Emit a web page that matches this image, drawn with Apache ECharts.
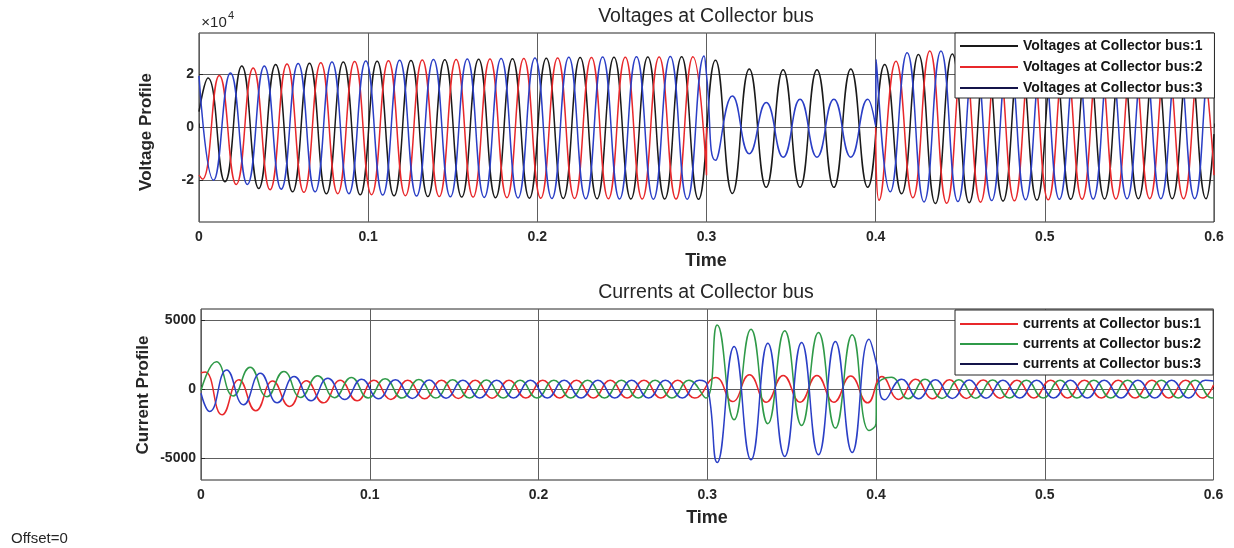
<!DOCTYPE html>
<html><head><meta charset="utf-8">
<script src="https://cdn.jsdelivr.net/npm/echarts@6/dist/echarts.min.js"></script>
<style>html,body{margin:0;padding:0;background:#fff}#c{width:1234px;height:548px}</style>
</head><body><div id="c"></div><script>
// ---------------- data ----------------
const HALF_CYCLE = 0.01;             // 50 Hz waveforms: one extremum every 10 ms
const X_TICKS = [0, 0.1, 0.2, 0.3, 0.4, 0.5, 0.6];
const V_TICKS = [-20000, 0, 20000];
const I_TICKS = [-5000, 0, 5000];

const V_NAMES = ['Voltages at Collector bus:1', 'Voltages at Collector bus:2', 'Voltages at Collector bus:3'];
const I_NAMES = ['currents at Collector bus:1', 'currents at Collector bus:2', 'currents at Collector bus:3'];

// Voltage phase 1 (black): extrema from t0, alternating peak/trough
const V1_START = [[0, 6000]];
const V1_T0 = 0.0053;
const V1_EXT = [18700, -20500, 23200, -23000, 23800, -24300, 24300, -25000, 24700, -25400,
  25000, -25800, 25300, -26100, 25600, -26300, 25800, -26500, 26000, -26700,
  26200, -26800, 26400, -26900, 26500, -27000, 26600, -27000, 26700, -27100,
  25400, -24900, 22100, -22600, 21800, -22600, 21800, -22600, 22100, -22600,
  23800, -25000, 27600, -28700, 27800, -28400, 27400, -27800, 27100, -27400,
  26900, -27100, 26800, -27000, 26800, -26900, 26700, -26900, 26700, -26900];
const V1_END = [[0.6, -2500]];

// Voltage phase 2 (red)
const V2_START = [[0, -18000]];
const V2_PRE_T0 = 0.002;
const V2_PRE = [-19500, 19600, -21500, 22500, -23500, 24000, -24500, 24500, -25000, 24900,
  -25400, 25200, -25800, 25500, -26100, 25700, -26300, 25900, -26500, 26100,
  -26700, 26300, -26800, 26400, -26900, 26500, -27000, 26600, -27000, 26700];
const V2_FAULT = [[0.3, -18000], [0.3, 0], [0.35, null], [0.4, 0]];
const V2_POST_T0 = 0.402;
const V2_POST = [-27500, 25000, -26500, 28900, -28600, 28500, -28200, 27900, -27700, 27400,
  -27300, 27100, -27100, 26900, -27000, 26800, -26900, 26800, -26900, 26700];
const V2_END = [[0.6, -18000]];

// Voltage phase 3 (blue)
const V3_START = [[0, 19500]];
const V3_PRE_T0 = 0.0086;
const V3_PRE = [-19900, 20600, -21500, 23200, -23300, 24200, -24300, 24700, -25000, 25100,
  -25500, 25400, -25900, 25700, -26200, 25900, -26400, 26100, -26600, 26300,
  -26800, 26500, -26900, 26600, -27000, 26700, -27100, 26800, -27100, 27000];
const V3_FAULT_IN = [[0.3, 20000]];
const V3_FAULT_T0 = 0.3053;
const V3_FAULT = [-12400, 11900, -9900, 9400, -11200, 10700, -11200, 10700, -11200, 10700];
const V3_FAULT_OUT = [[0.4, 500], [0.4003, 25700]];
const V3_POST_T0 = 0.4086;
const V3_POST = [-24300, 28200, -28100, 28900, -28000, 28300, -27600, 27800, -27300, 27400,
  -27100, 27100, -27000, 27000, -26900, 26900, -26900, 26800, -26900, 26800];
const V3_END = [[0.6, 25000]];

// Current phase 1 (red)
const I1_START = [[0, 1200]];
const I1_PRE_T0 = 0.0025;
const I1_PRE = [1250, -1870, 680, -1580, 600, -1260, 620, -1000, 650, -850,
  650, -750, 650, -700, 650, -680, 650, -660, 650, -650,
  650, -650, 650, -650, 650, -650, 650, -650, 650, -650];
const I1_FAULT_T0 = 0.305;
const I1_FAULT = [850, -900, 1050, -950, 1000, -950, 1000, -950, 950, -1000];
const I1_POST_T0 = 0.4035;
const I1_POST = [920, -750, 720, -700, 680, -680, 660, -660, 650, -650,
  650, -650, 650, -650, 650, -650, 650, -650, 650, -650];
const I1_END = [[0.6, 300]];

// Current phase 2 (green)
const I2_START = [[0, -100]];
const I2_PRE_T0 = 0.0091;
const I2_PRE = [2000, -500, 1600, -550, 1290, -600, 970, -620, 850, -640,
  760, -650, 700, -650, 680, -650, 660, -650, 650, -650,
  650, -650, 650, -650, 650, -650, 650, -650, 650, -650];
const I2_FAULT_T0 = 0.3059;
const I2_FAULT = [4680, -2230, 4370, -2520, 4250, -2650, 4130, -2840, 3960, -3010];
const I2_FAULT_OUT = [[0.4, -2500], [0.4003, 100]];
const I2_POST_T0 = 0.4091;
const I2_POST = [870, -700, 720, -680, 680, -660, 660, -650, 650, -650,
  650, -650, 650, -650, 650, -650, 650, -650, 650, -650];
const I2_END = [[0.6, -600]];

// Current phase 3 (blue)
const I3_START = [[0, -300]];
const I3_PRE_T0 = 0.0052;
const I3_PRE = [-1630, 1400, -1140, 1160, -1000, 920, -850, 800, -750, 720,
  -700, 680, -680, 660, -660, 650, -650, 650, -650, 650,
  -650, 650, -650, 650, -650, 650, -650, 650, -650, 650];
const I3_FAULT_IN = [[0.3, 300]];
const I3_FAULT_T0 = 0.3059;
const I3_FAULT = [-5340, 3100, -5150, 3350, -4900, 3400, -4780, 3470, -4610, 3640];
const I3_FAULT_OUT = [[0.4, 2000]];
const I3_POST_T0 = 0.4052;
const I3_POST = [-780, 720, -700, 680, -680, 660, -660, 650, -650, 650,
  -650, 650, -650, 650, -650, 650, -650, 650, -650, 650];
const I3_END = [[0.6, 600]];

// ---------------- build ----------------
function seq(t0, vals) {
  return vals.map((v, i) => [Math.round((t0 + i * HALF_CYCLE) * 1e5) / 1e5, v]);
}
const v1 = [...V1_START, ...seq(V1_T0, V1_EXT), ...V1_END];
const v2 = [...V2_START, ...seq(V2_PRE_T0, V2_PRE), ...V2_FAULT, ...seq(V2_POST_T0, V2_POST), ...V2_END];
const v3 = [...V3_START, ...seq(V3_PRE_T0, V3_PRE), ...V3_FAULT_IN, ...seq(V3_FAULT_T0, V3_FAULT), ...V3_FAULT_OUT, ...seq(V3_POST_T0, V3_POST), ...V3_END];
const i1 = [...I1_START, ...seq(I1_PRE_T0, I1_PRE), ...seq(I1_FAULT_T0, I1_FAULT), ...seq(I1_POST_T0, I1_POST), ...I1_END];
const i2 = [...I2_START, ...seq(I2_PRE_T0, I2_PRE), ...seq(I2_FAULT_T0, I2_FAULT), ...I2_FAULT_OUT, ...seq(I2_POST_T0, I2_POST), ...I2_END];
const i3 = [...I3_START, ...seq(I3_PRE_T0, I3_PRE), ...I3_FAULT_IN, ...seq(I3_FAULT_T0, I3_FAULT), ...I3_FAULT_OUT, ...seq(I3_POST_T0, I3_POST), ...I3_END];

const FONT = '"Liberation Sans", Arial, sans-serif';
const BLACK = '#1a1a1a', RED = '#e8282b', BLUE = '#2b3fc6', GREEN = '#2f9a48';
const LEG3 = '#14144a';

function xAxis(gi) {
  return {
    type: 'value', gridIndex: gi, min: 0, max: 0.6, interval: 0.1,
    axisLine: { show: false },
    axisTick: { show: true, inside: true, length: 4, lineStyle: { color: '#262626' } },
    splitLine: { show: true, lineStyle: { color: '#5e5e5e', width: 1 } },
    axisLabel: { margin: 8, color: '#262626', fontFamily: FONT, fontWeight: 'bold', fontSize: 14,
      formatter: v => String(+v.toFixed(2)) }
  };
}
function yAxis(gi, min, max, ticks, fmt) {
  return {
    type: 'value', gridIndex: gi, min, max,
    axisLine: { show: false },
    axisTick: { show: true, inside: true, length: 4, customValues: ticks, lineStyle: { color: '#262626' } },
    splitLine: { show: true, lineStyle: { color: '#5e5e5e', width: 1 } },
    axisLabel: { margin: 5, color: '#262626', fontFamily: FONT, fontWeight: 'bold', fontSize: 14,
      customValues: ticks, formatter: fmt }
  };
}
function line(name, data, color, gi) {
  return { name, type: 'line', xAxisIndex: gi, yAxisIndex: gi, data, showSymbol: false, symbol: 'none',
    smooth: 0.5, lineStyle: { width: 1.5, color }, itemStyle: { color }, emphasis: { disabled: true } };
}
function legend(names, colors, top, gap, pad) {
  return {
    orient: 'vertical', left: 955, top, itemWidth: 58, itemHeight: 2, icon: 'rect', itemGap: gap,
    padding: pad, backgroundColor: '#fff', borderColor: '#262626', borderWidth: 1, borderRadius: 0,
    selectedMode: false,
    textStyle: { color: '#161616', fontFamily: FONT, fontWeight: 'bold', fontSize: 14, lineHeight: 14 },
    data: names.map((n, k) => ({ name: n, itemStyle: { color: colors[k] } }))
  };
}
function txt(x, y, text, size, weight, extra) {
  return Object.assign({ type: 'text', x, y, silent: true,
    style: { text, font: `${weight} ${size}px ${FONT}`, fill: '#262626',
      align: 'center', verticalAlign: 'middle', textAlign: 'center', textVerticalAlign: 'middle' } }, extra || {});
}

const chart = echarts.init(document.getElementById('c'), null, { renderer: 'canvas' });
chart.setOption({
  animation: false,
  backgroundColor: '#fff',
  grid: [
    { left: 199, top: 33, width: 1015, height: 189, show: true, borderColor: '#262626', borderWidth: 1, backgroundColor: '#fff' },
    { left: 201, top: 309, width: 1012.5, height: 171, show: true, borderColor: '#262626', borderWidth: 1, backgroundColor: '#fff' }
  ],
  xAxis: [xAxis(0), xAxis(1)],
  yAxis: [
    yAxis(0, -35700, 35700, V_TICKS, v => String(v / 1e4)),
    yAxis(1, -6620, 5840, I_TICKS, v => String(v))
  ],
  legend: [
    legend(V_NAMES, [BLACK, RED, LEG3], 33, 7, [6, 12, 3, 5]),
    legend(I_NAMES, [RED, GREEN, LEG3], 310, 6, [7, 12, 4, 5])
  ],
  series: [
    line(V_NAMES[0], v1, BLACK, 0),
    line(V_NAMES[1], v2, RED, 0),
    line(V_NAMES[2], v3, BLUE, 0),
    line(I_NAMES[0], i1, RED, 1),
    line(I_NAMES[1], i2, GREEN, 1),
    line(I_NAMES[2], i3, BLUE, 1)
  ],
  graphic: [
    txt(706, 17, 'Voltages at Collector bus', 19.5, 'normal'),
    txt(706, 293, 'Currents at Collector bus', 19.5, 'normal'),
    txt(706, 261, 'Time', 18, 'bold'),
    txt(707, 518, 'Time', 18, 'bold'),
    txt(146.5, 132, 'Voltage Profile', 17, 'bold', { rotation: Math.PI / 2 }),
    txt(143, 395, 'Current Profile', 17, 'bold', { rotation: Math.PI / 2 }),
    txt(214, 23, '×10', 15, 'normal'),
    txt(231, 16, '4', 11, 'normal'),
    { type: 'text', x: 11, y: 539, silent: true,
      style: { text: 'Offset=0', font: `normal 15px ${FONT}`, fill: '#262626', align: 'left', verticalAlign: 'middle', textAlign: 'left', textVerticalAlign: 'middle' } }
  ]
});
</script></body></html>
